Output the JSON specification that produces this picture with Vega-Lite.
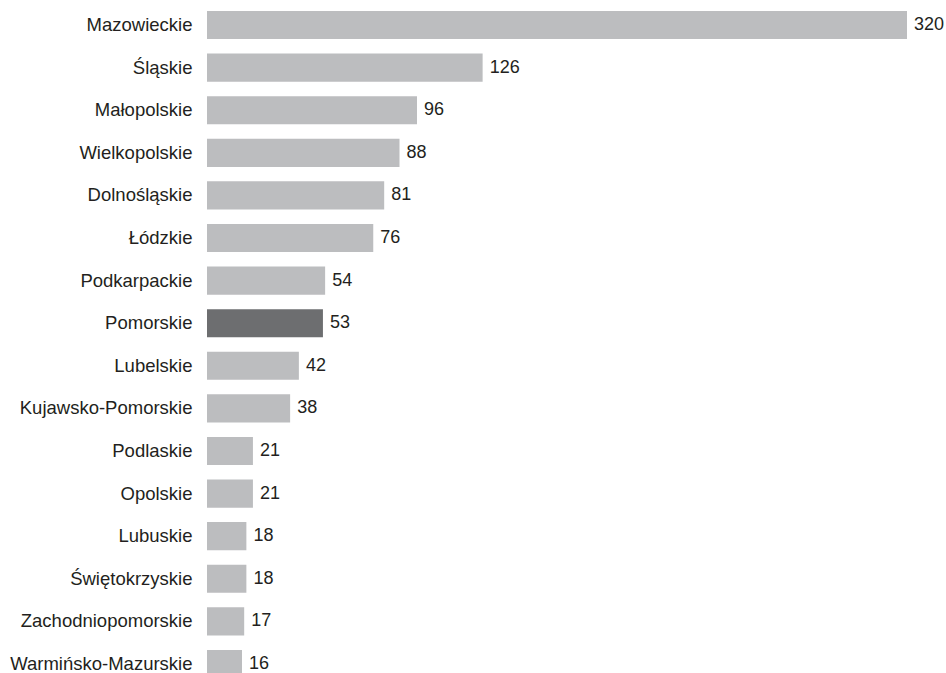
{
  "$schema": "https://vega.github.io/schema/vega-lite/v6.json",
  "autosize": {"type": "none"},
  "padding": {"left": 207, "right": 39, "top": 0, "bottom": 0},
  "width": 700,
  "height": 689,
  "background": "white",
  "config": {"view": {"stroke": null}, "font": "Liberation Sans"},
  "data": {
    "values": [
      {"region": "Mazowieckie", "value": 320, "highlight": "no"},
      {"region": "Śląskie", "value": 126, "highlight": "no"},
      {"region": "Małopolskie", "value": 96, "highlight": "no"},
      {"region": "Wielkopolskie", "value": 88, "highlight": "no"},
      {"region": "Dolnośląskie", "value": 81, "highlight": "no"},
      {"region": "Łódzkie", "value": 76, "highlight": "no"},
      {"region": "Podkarpackie", "value": 54, "highlight": "no"},
      {"region": "Pomorskie", "value": 53, "highlight": "yes"},
      {"region": "Lubelskie", "value": 42, "highlight": "no"},
      {"region": "Kujawsko-Pomorskie", "value": 38, "highlight": "no"},
      {"region": "Podlaskie", "value": 21, "highlight": "no"},
      {"region": "Opolskie", "value": 21, "highlight": "no"},
      {"region": "Lubuskie", "value": 18, "highlight": "no"},
      {"region": "Świętokrzyskie", "value": 18, "highlight": "no"},
      {"region": "Zachodniopomorskie", "value": 17, "highlight": "no"},
      {"region": "Warmińsko-Mazurskie", "value": 16, "highlight": "no"}
    ]
  },
  "encoding": {
    "y": {
      "field": "region",
      "type": "nominal",
      "sort": null,
      "scale": {"paddingInner": 0.34, "paddingOuter": 0.258},
      "axis": {
        "title": null,
        "domain": false,
        "ticks": false,
        "labelPadding": 15,
        "labelFontSize": 18.5,
        "labelLimit": 0,
        "labelColor": "#231f20",
        "labelFont": "Liberation Sans"
      }
    },
    "x": {
      "field": "value",
      "type": "quantitative",
      "scale": {"domain": [0, 320], "nice": false},
      "axis": null
    }
  },
  "layer": [
    {
      "mark": {"type": "bar"},
      "encoding": {
        "color": {
          "field": "highlight",
          "type": "nominal",
          "scale": {"domain": ["no", "yes"], "range": ["#bcbdbf", "#6d6e70"]},
          "legend": null
        }
      }
    },
    {
      "mark": {"type": "text", "align": "left", "baseline": "middle", "dx": 7, "fontSize": 18, "color": "#231f20", "font": "Liberation Sans"},
      "encoding": {"text": {"field": "value", "type": "quantitative"}}
    }
  ]
}
